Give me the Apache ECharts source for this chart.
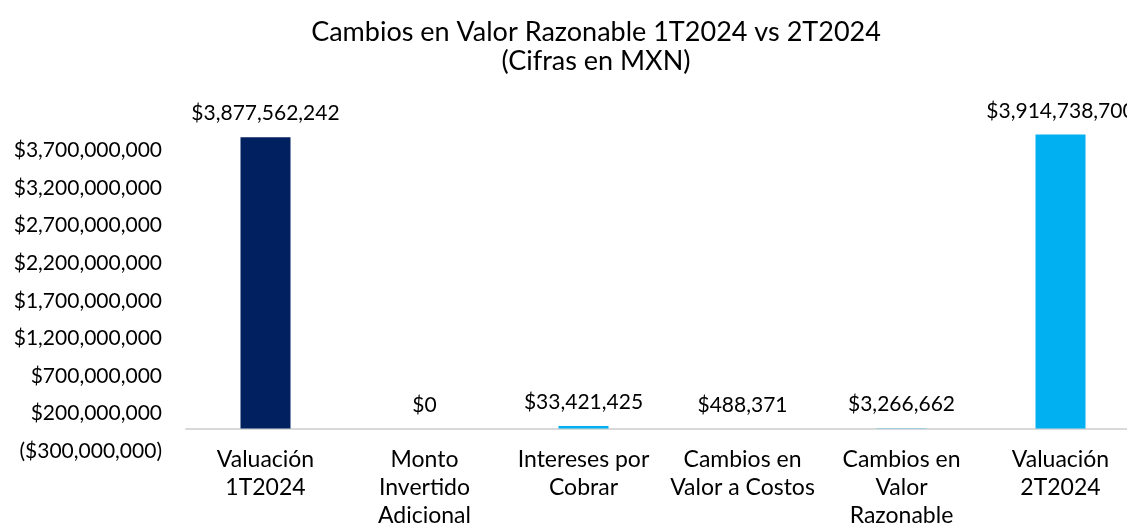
<!DOCTYPE html>
<html>
<head>
<meta charset="utf-8">
<script src="https://cdn.jsdelivr.net/npm/echarts@6/dist/echarts.min.js"></script>
<style>
  html, body { margin: 0; padding: 0; background: #fff; }
  #chart { width: 1127px; height: 526px; }
</style>
</head>
<body>
<div id="chart"></div>
<script>
// categories and values
const categories = [
    'Valuación\n1T2024',
    'Monto\nInvertido\nAdicional',
    'Intereses por\nCobrar',
    'Cambios en\nValor a Costos',
    'Cambios en\nValor\nRazonable',
    'Valuación\n2T2024'
];
const values = [3877562242, 0, 33421425, 488371, 3266662, 3914738700];
const barColors = ['#002060', '#00B0F0', '#00B0F0', '#00B0F0', '#00B0F0', '#00B0F0'];

const FONT = 'Lato';

function money(v) {
    const s = '$' + Math.abs(v).toLocaleString('en-US');
    return v < 0 ? '(' + s + ')' : s;
}

const chart = echarts.init(document.getElementById('chart'));

chart.setOption({
    animation: false,
    textStyle: { fontFamily: FONT, color: '#000' },
    title: {
        text: 'Cambios en Valor Razonable 1T2024 vs 2T2024\n(Cifras en MXN)',
        left: 591,
        textAlign: 'center',
        top: 13,
        textStyle: { fontFamily: FONT, fontSize: 27, fontWeight: 'normal', color: '#000', lineHeight: 29 }
    },
    grid: { left: 186, right: -13, top: 128, bottom: 75, containLabel: false, outerBoundsMode: 'none' },
    xAxis: {
        type: 'category',
        data: categories,
        axisLine: { onZero: true, lineStyle: { color: '#D9D9D9', width: 2 } },
        axisTick: { show: false },
        axisLabel: { interval: 0, fontSize: 23, lineHeight: 28, margin: -5, color: '#000', fontFamily: FONT }
    },
    yAxis: {
        type: 'value',
        min: -300000000,
        max: 4000000000,
        interval: 500000000,
        splitLine: { show: false },
        axisLine: { show: false },
        axisTick: { show: false },
        axisLabel: {
            showMaxLabel: false,
            fontSize: 21, margin: 24, color: '#000', fontFamily: FONT,
            formatter: money
        }
    },
    series: [{
        type: 'bar',
        barWidth: 50,
        data: values.map((v, i) => ({ value: v, itemStyle: { color: barColors[i] } })),
        label: {
            show: true,
            position: 'top',
            distance: 13,
            fontSize: 21,
            color: '#000',
            fontFamily: FONT,
            formatter: p => money(p.value)
        }
    }]
});
</script>
</body>
</html>
